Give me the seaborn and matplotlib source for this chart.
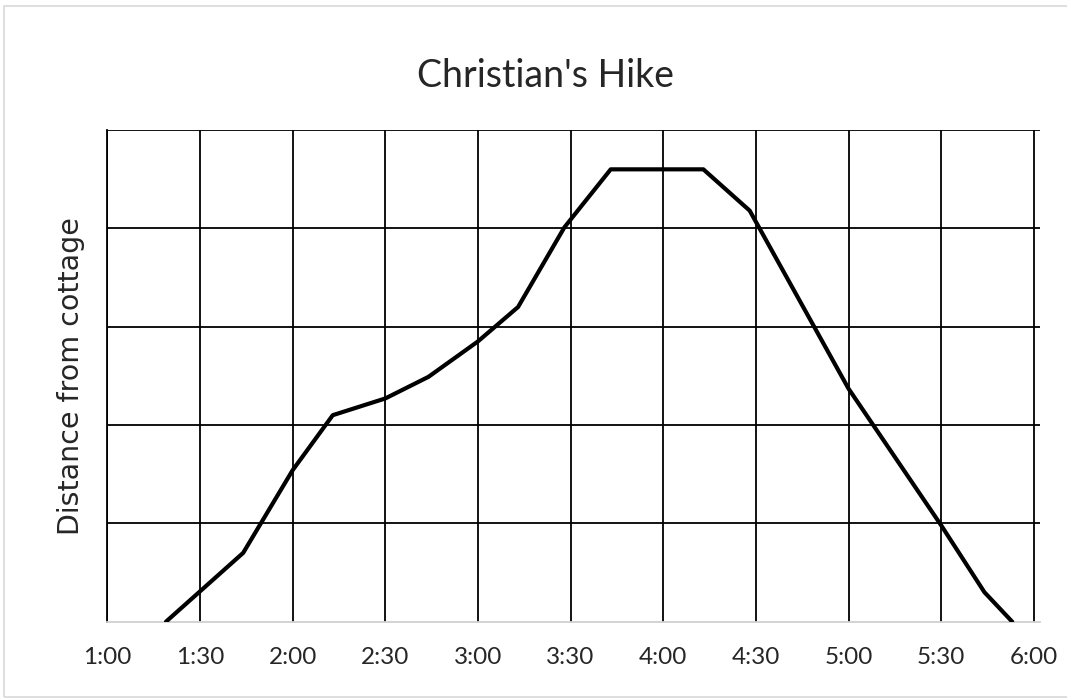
import matplotlib
matplotlib.use("Agg")
import matplotlib.pyplot as plt
import seaborn as sns
import pandas as pd
from matplotlib.patches import Rectangle

# Data: minutes after 1:00, distance in grid units
minutes = [19, 44, 60, 73, 90, 104, 120, 133, 148, 163, 193, 208, 240, 270, 284, 293]
distance = [0.0, 0.70, 1.54, 2.10, 2.27, 2.49, 2.85, 3.20, 4.01, 4.60, 4.60, 4.18, 2.37, 0.98, 0.30, 0.0]
tick_minutes = [0, 30, 60, 90, 120, 150, 180, 210, 240, 270, 300]
tick_labels = ["1:00", "1:30", "2:00", "2:30", "3:00", "3:30", "4:00", "4:30", "5:00", "5:30", "6:00"]
y_grid = [0, 1, 2, 3, 4, 5]

sns.set_style("white")
plt.rcParams["font.family"] = ["Lato", "DejaVu Sans"]

df = pd.DataFrame({"minutes": minutes, "distance": distance})

fig = plt.figure(figsize=(10.67, 6.99), dpi=100)
ax = fig.add_axes([107.3 / 1067, 1 - 621.7 / 699, (1040 - 107.3) / 1067, (621.7 - 130) / 699])

# grid lines
for t in tick_minutes:
    ax.axvline(t, color="black", lw=1.3, zorder=1)
for y in y_grid[1:]:
    ax.axhline(y, color="black", lw=1.3, zorder=1)

sns.lineplot(data=df, x="minutes", y="distance", color="black", lw=3.0, ax=ax, zorder=3)

ax.set_xlim(0, 302)
ax.set_ylim(0, 5)
ax.set_xticks(tick_minutes)
ax.set_xticklabels(tick_labels, fontsize=17.5, color="#262626")
ax.set_yticks([])
ax.tick_params(axis="x", length=0, pad=18)
ax.set_xlabel("")
ax.set_ylabel("Distance from cottage", fontsize=20.5, color="#262626", labelpad=16,
              family=["DejaVu Sans"])
ax.set_title("Christian's Hike", fontsize=27, color="#262626", pad=31, x=0.470)

for s in ["top", "right"]:
    ax.spines[s].set_visible(False)
ax.spines["left"].set_color("black")
ax.spines["left"].set_linewidth(1.3)
ax.spines["bottom"].set_color("#d0d0d0")
ax.spines["bottom"].set_linewidth(1.3)

# outer chart border
fig.patches.append(Rectangle((4 / 1067, 2 / 699), 1.0, 691 / 699, transform=fig.transFigure,
                             fill=False, edgecolor="#d9d9d9", lw=1.2))

fig.savefig("out.png", dpi=100)
